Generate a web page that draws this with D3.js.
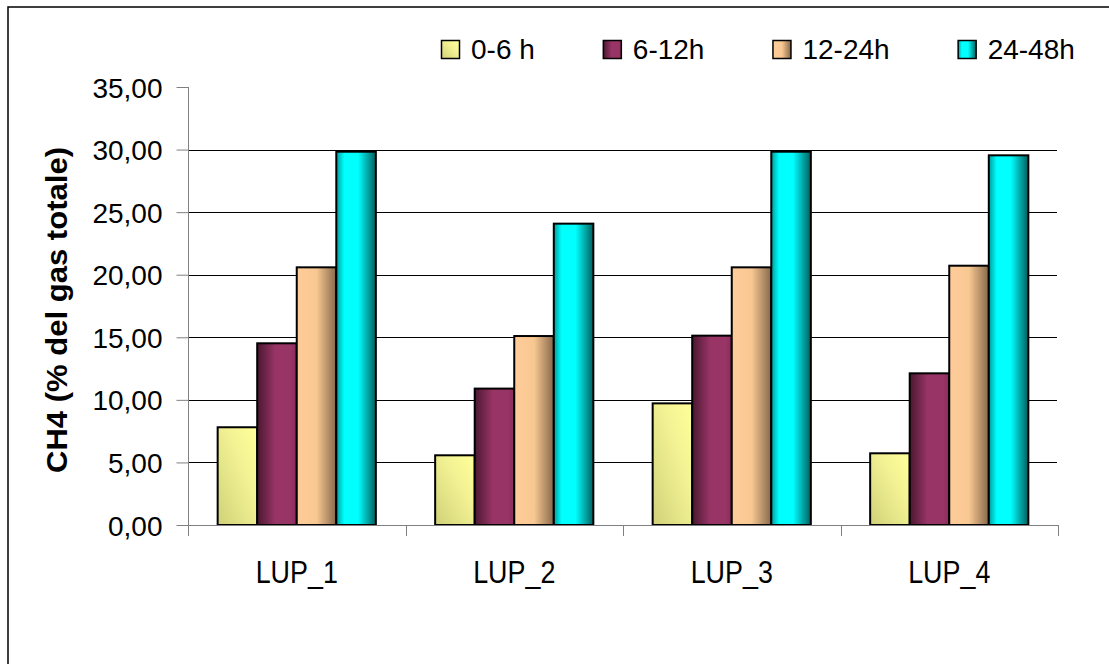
<!DOCTYPE html>
<html>
<head>
<meta charset="utf-8">
<script src="https://cdn.jsdelivr.net/npm/d3@7/dist/d3.min.js"></script>
<style>
  html, body { margin: 0; padding: 0; background: #fff; }
  svg { display: block; }
  text { font-family: "Liberation Sans", Arial, sans-serif; fill: #000; }
</style>
</head>
<body>
<svg id="chart" width="1109" height="664"></svg>
<script>
// ---- data ----
const categories = ["LUP_1", "LUP_2", "LUP_3", "LUP_4"];
const seriesNames = ["0-6 h", "6-12h", "12-24h", "24-48h"];
const s0_6 = [7.81, 5.57, 9.72, 5.73];
const s6_12 = [14.52, 10.90, 15.13, 12.12];
const s12_24 = [20.59, 15.10, 20.59, 20.72];
const s24_48 = [29.83, 24.08, 29.83, 29.54];
const seriesValues = [s0_6, s6_12, s12_24, s24_48];
const yTicks = [0, 5, 10, 15, 20, 25, 30, 35];
const yTitle = "CH4 (% del gas totale)";

// ---- layout ----
const W = 1109, H = 664;
const plot = { left: 188, right: 1058, top: 87, bottom: 525 };
const svg = d3.select("#chart");
const defs = svg.append("defs");

// gradients
function grad(id, x1, y1, x2, y2, stops) {
  const g = defs.append("linearGradient").attr("id", id)
    .attr("x1", x1).attr("y1", y1).attr("x2", x2).attr("y2", y2);
  stops.forEach(s => g.append("stop").attr("offset", s[0]).attr("stop-color", s[1]));
}
grad("g0", "0%", "100%", "100%", "0%", [[0, "#d0d078"], [0.6, "#f2f294"], [1, "#ffff99"]]);
grad("g1", "0%", "0%", "100%", "0%", [[0, "#4a1830"], [0.45, "#983466"], [0.85, "#983466"], [1, "#8a2c5c"]]);
grad("g2", "0%", "0%", "100%", "0%", [[0, "#ffcc99"], [0.5, "#f8c892"], [1, "#86684a"]]);
grad("g3", "0%", "0%", "100%", "0%", [[0, "#009c9c"], [0.2, "#00ffff"], [0.55, "#00ffff"], [1, "#005e5e"]]);
const fills = ["url(#g0)", "url(#g1)", "url(#g2)", "url(#g3)"];

// frame (right and bottom edges run beyond the picture)
svg.append("rect").attr("x", 8).attr("y", 7).attr("width", W + 10).attr("height", H + 10)
  .attr("fill", "#fff").attr("stroke", "#000").attr("stroke-width", 1.5);

// scales
const y = d3.scaleLinear().domain([0, 35]).range([plot.bottom, plot.top]);
const x0 = d3.scaleBand().domain(categories).range([plot.left, plot.right])
  .paddingInner(1.5 / 5.5).paddingOuter(0.75 / 5.5);
const x1 = d3.scaleBand().domain(seriesNames).range([0, x0.bandwidth()]);

// gridlines (no line at the top value)
svg.append("g").selectAll("line").data(yTicks.filter(t => t > 0 && t < 35)).join("line")
  .attr("x1", plot.left).attr("x2", plot.right - 1)
  .attr("y1", d => Math.round(y(d)) + 0.5).attr("y2", d => Math.round(y(d)) + 0.5)
  .attr("stroke", "#000").attr("stroke-width", 1);

// y axis
const yAxis = d3.axisLeft(y).tickValues(yTicks).tickSize(12).tickPadding(14)
  .tickFormat(d => d3.format(".2f")(d).replace(".", ","));
const gy = svg.append("g").attr("transform", `translate(${plot.left + 0.5},0)`).call(yAxis);
gy.select(".domain").attr("stroke", "#808080").attr("d", `M0,${plot.top}V${plot.bottom + 10}`);
gy.selectAll(".tick line").attr("stroke", "#808080");
gy.selectAll(".tick text").attr("font-size", 28).attr("font-family", "Liberation Sans, Arial, sans-serif")
  .attr("fill", "#000").attr("dy", "0.36em");

// bars
const groups = svg.append("g").selectAll("g").data(categories).join("g")
  .attr("transform", d => `translate(${x0(d)},0)`);
groups.selectAll("rect")
  .data((c, ci) => seriesNames.map((s, si) => ({ s, si, v: seriesValues[si][ci] })))
  .join("rect")
  .attr("x", d => x1(d.s))
  .attr("width", x1.bandwidth())
  .attr("y", d => y(d.v))
  .attr("height", d => y(0) - y(d.v))
  .attr("fill", d => fills[d.si])
  .attr("stroke", "#000").attr("stroke-width", 2);

// x axis
const xEdges = [plot.left].concat(categories.map(c => x0(c) - x0.step() * x0.paddingOuter() + x0.step()));
const gx = svg.append("g");
gx.append("line").attr("x1", plot.left).attr("x2", plot.right + 0.5)
  .attr("y1", plot.bottom + 0.5).attr("y2", plot.bottom + 0.5).attr("stroke", "#808080").attr("stroke-width", 1.2);
gx.selectAll("line.tk").data(xEdges).join("line").attr("class", "tk")
  .attr("x1", d => Math.round(d) + 0.5).attr("x2", d => Math.round(d) + 0.5)
  .attr("y1", plot.bottom).attr("y2", plot.bottom + 11).attr("stroke", "#808080");
gx.selectAll("text").data(categories).join("text")
  .attr("transform", d => `translate(${x0(d) + x0.bandwidth() / 2},583) scale(0.84,1)`)
  .attr("text-anchor", "middle").attr("font-size", 32).text(d => d);

// y title
svg.append("text")
  .attr("transform", `translate(67,310) rotate(-90)`)
  .attr("text-anchor", "middle").attr("font-size", 30).attr("font-weight", "bold")
  .attr("textLength", 326).attr("lengthAdjust", "spacingAndGlyphs")
  .text(yTitle);

// legend
const legend = svg.append("g");
let lx = 441;
seriesNames.forEach((name, i) => {
  const g = legend.append("g").attr("transform", `translate(${lx},0)`);
  g.append("rect").attr("x", 0.5).attr("y", 40.5).attr("width", 18).attr("height", 18)
    .attr("fill", fills[i]).attr("stroke", "#000").attr("stroke-width", 1.5);
  const t = g.append("text").attr("x", 30).attr("y", 59).attr("font-size", 28).text(name);
  lx += 30 + t.node().getComputedTextLength() + 68;
});
</script>
</body>
</html>
